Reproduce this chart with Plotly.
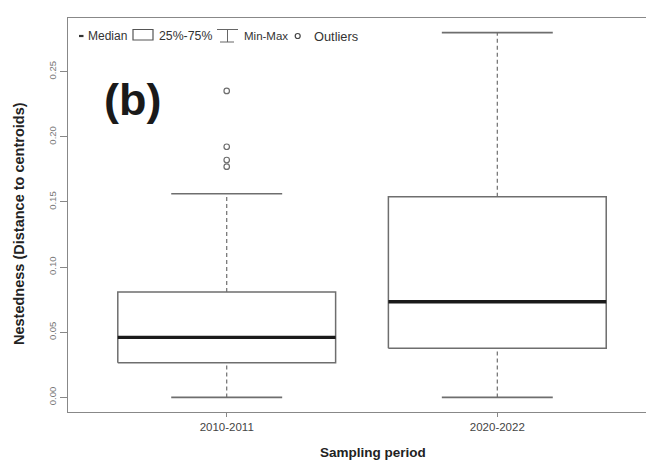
import plotly.graph_objects as go

# Summary statistics per sampling period
periods = ["2010-2011", "2020-2022"]
q1 = [0.0266, 0.0377]
median = [0.0461, 0.0734]
q3 = [0.0809, 0.1540]
whisker_min = [0.0, 0.0]
whisker_max = [0.1563, 0.2800]
outliers = [[0.2352, 0.1924, 0.1822, 0.1771], []]

y_ticks = [0.0, 0.05, 0.10, 0.15, 0.20, 0.25]
y_ticklabels = ["0.00", "0.05", "0.10", "0.15", "0.20", "0.25"]

BOX_W = 0.805
CAP_W = 0.41
GREY = "#6e6e6e"
FONT = "Liberation Sans, Arial, sans-serif"

fig = go.Figure()

for i, name in enumerate(periods):
    xc = i + 1
    xl, xr = xc - BOX_W / 2, xc + BOX_W / 2
    # whiskers (dashed)
    fig.add_trace(go.Scatter(x=[xc, xc], y=[q3[i], whisker_max[i]], mode="lines",
                             line=dict(color=GREY, width=1.2, dash="4px,3px"),
                             showlegend=False, hoverinfo="skip"))
    fig.add_trace(go.Scatter(x=[xc, xc], y=[whisker_min[i], q1[i]], mode="lines",
                             line=dict(color=GREY, width=1.2, dash="4px,3px"),
                             showlegend=False, hoverinfo="skip"))
    # caps
    for v in (whisker_min[i], whisker_max[i]):
        fig.add_trace(go.Scatter(x=[xc - CAP_W / 2, xc + CAP_W / 2], y=[v, v], mode="lines",
                                 line=dict(color=GREY, width=1.6),
                                 showlegend=False, hoverinfo="skip"))
    # interquartile box
    fig.add_trace(go.Scatter(x=[xl, xr, xr, xl, xl], y=[q1[i], q1[i], q3[i], q3[i], q1[i]],
                             mode="lines", fill="toself", fillcolor="white",
                             line=dict(color=GREY, width=1.5),
                             showlegend=False, hoverinfo="skip"))
    # median
    fig.add_trace(go.Scatter(x=[xl, xr], y=[median[i], median[i]], mode="lines",
                             line=dict(color="#1a1a1a", width=3.4),
                             showlegend=False, hoverinfo="skip"))
    # outliers
    if outliers[i]:
        fig.add_trace(go.Scatter(x=[xc] * len(outliers[i]), y=outliers[i], mode="markers",
                                 marker=dict(symbol="circle-open", size=5.5,
                                             color=GREY, line=dict(width=1.2)),
                                 showlegend=False, hoverinfo="skip"))

# key row across the top of the panel (pixel positions converted to paper units)
L, T, PW, PH = 68, 18, 578, 394


def px(x):
    return (x - L) / PW


def py(y):
    return (T + PH - y) / PH


key_y = 36
P = dict(xref="paper", yref="paper")
shapes = [
    dict(type="line", x0=px(79), x1=px(83.5), y0=py(key_y), y1=py(key_y),
         line=dict(color="#333", width=2.2), **P),
    dict(type="rect", x0=px(133), x1=px(153), y0=py(29.5), y1=py(40),
         line=dict(color="#555", width=1.2), **P),
    dict(type="line", x0=px(217), x1=px(238), y0=py(29.5), y1=py(29.5),
         line=dict(color="#666", width=1), **P),
    dict(type="line", x0=px(227.5), x1=px(227.5), y0=py(29.5), y1=py(42),
         line=dict(color="#666", width=1), **P),
    dict(type="line", x0=px(220), x1=px(234), y0=py(42), y1=py(42),
         line=dict(color="#666", width=1), **P),
    dict(type="circle", x0=px(295.2), x1=px(300.2), y0=py(33.5), y1=py(38.5),
         line=dict(color="#444", width=1.2), **P),
]
key_labels = [("Median", 85.5, 12), ("25%-75%", 156.5, 12.3),
              ("Min-Max", 241.5, 11.5), ("Outliers", 311.5, 12.8)]
annotations = [
    dict(text=t, x=px(x0), y=py(key_y), xanchor="left", yanchor="middle",
         showarrow=False, font=dict(family=FONT, size=s, color="#333"), **P)
    for t, x0, s in key_labels
]
annotations += [
    dict(text="<b>(b)</b>", x=px(132), y=py(99), xanchor="center", yanchor="middle",
         showarrow=False, font=dict(family=FONT, size=45, color="#1a1a1a"), **P),
    dict(text="<b>Nestedness (Distance to centroids)</b>", x=px(19), y=py(224),
         xanchor="center", yanchor="middle", textangle=-90, showarrow=False,
         font=dict(family=FONT, size=14.5, color="#222"), **P),
    dict(text="<b>Sampling period</b>", x=px(373), y=py(452), xanchor="center",
         yanchor="middle", showarrow=False,
         font=dict(family=FONT, size=13.5, color="#222"), **P),
]

fig.update_layout(
    width=646, height=460,
    margin=dict(l=L, r=0, t=T, b=460 - T - PH, pad=0),
    paper_bgcolor="white", plot_bgcolor="white",
    shapes=shapes, annotations=annotations,
    showlegend=False,
    xaxis=dict(range=[0.4135, 2.5495], tickvals=[1, 2], ticktext=periods,
               showgrid=False, zeroline=False, showline=True, mirror=True,
               linecolor="#888", linewidth=1.3, ticks="outside", ticklen=4,
               tickcolor="#888", tickfont=dict(family=FONT, size=11.5, color="#444")),
    yaxis=dict(range=[-0.0112, 0.2912], tickvals=y_ticks, ticktext=y_ticklabels,
               showgrid=False, zeroline=False, showline=True, mirror=False,
               linecolor="#888", linewidth=1.3, ticks="outside", ticklen=7,
               tickcolor="#888", tickangle=-90,
               tickfont=dict(family=FONT, size=9.5, color="#777")),
)

fig.write_html("out.html")
